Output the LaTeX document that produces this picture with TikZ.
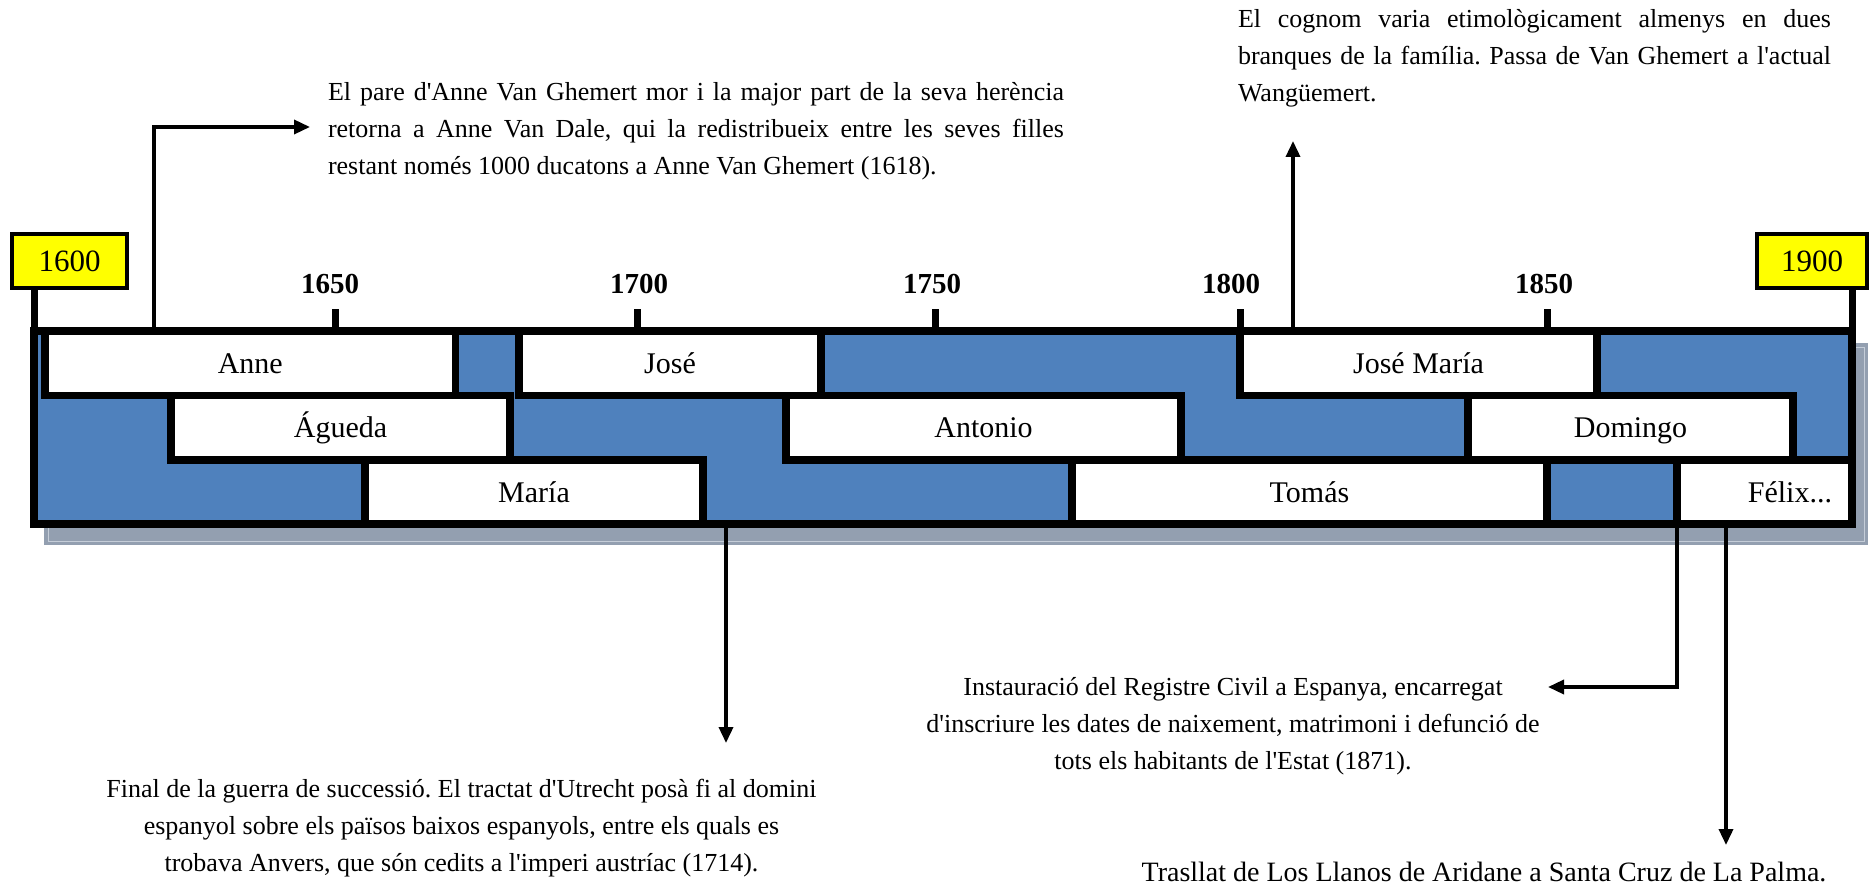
\documentclass[tikz,border=0pt]{standalone}
\usepackage{fontspec}
\setmainfont{Liberation Serif}[Ligatures=TeXOff]
\usetikzlibrary{arrows.meta}
\definecolor{barblue}{HTML}{4F81BD}
\definecolor{shadowgray}{HTML}{939FB0}
\definecolor{shadowline}{HTML}{C5CDD8}
\definecolor{yearyellow}{HTML}{FFFF00}
\frenchspacing
\begin{document}
\frenchspacing
\begin{tikzpicture}[x=1pt,y=-1pt,
  pbox/.style={draw=black, fill=white, line width=7.5pt, inner sep=0pt, outer sep=0pt,
    text height=20pt, text depth=0pt, font=\fontsize{30}{32}\selectfont},
  yearbox/.style={draw=black, fill=yearyellow, line width=4pt, inner sep=0pt, outer sep=0pt,
    minimum height=54pt, text height=21pt, text depth=0pt, font=\fontsize{31}{33}\selectfont},
  ticklbl/.style={inner sep=0pt, font=\fontsize{29}{31}\selectfont\bfseries},
  tickmark/.style={line width=7pt},
  stem/.style={line width=7pt},
  note/.style={inner sep=0pt, outer sep=0pt, font=\fontsize{26}{37}\selectfont\frenchspacing},
  arr/.style={line width=3.5pt, -{Triangle[length=16pt,width=14pt]}},
]
\useasboundingbox (0,0) rectangle (1871,885);

% shadow
\fill[shadowgray] (44,343) rectangle (1868,545);
\draw[shadowline, line width=1pt] (48,347) rectangle (1864,541);

% bar background
\node[fill=barblue, minimum width=1818pt, minimum height=193pt, inner sep=0pt, outer sep=0pt] (bar) at (943,427.5) {};

% row 1
\node[pbox, minimum width=410.5pt, minimum height=64.5pt] (anne) at (250.25,363.25) {Anne};
\node[pbox, minimum width=302pt, minimum height=64.5pt] (jose) at (670,363.25) {José};
\node[pbox, minimum width=357pt, minimum height=64.5pt] (jm) at (1418.5,363.25) {José María};
% row 2
\node[pbox, minimum width=339pt, minimum height=64.5pt] (agueda) at (340.5,427.75) {Águeda};
\node[pbox, minimum width=395pt, minimum height=64.5pt] (antonio) at (983.5,427.75) {Antonio};
\node[pbox, minimum width=325pt, minimum height=64.5pt] (domingo) at (1630.5,427.75) {Domingo};
% row 3
\node[pbox, minimum width=338pt, minimum height=64pt] (maria) at (534,492) {María};
\node[pbox, minimum width=475pt, minimum height=64pt] (tomas) at (1309.5,492) {Tomás};
\node[pbox, minimum width=175pt, minimum height=64pt, text width=135pt, align=right] (felix) at (1764.5,492) {Félix...};

% outer outline
\draw[line width=7.5pt] (bar.north west) rectangle (bar.south east);

% year boxes and stems
\node[yearbox, minimum width=115pt] (y1600) at (69.5,261) {1600};
\node[yearbox, minimum width=110pt] (y1900) at (1812,261) {1900};
\draw[stem] (bar.north west) -- (bar.north west |- y1600.south);
\draw[stem] (bar.north east) -- (bar.north east |- y1900.south);

% ticks
\foreach \x/\lx/\yr in {335.5/330/1650, 637/639/1700, 935/932/1750, 1240/1231/1800, 1547/1544/1850} {
  \node[ticklbl] (t\yr) at (\lx,284) {\yr};
  \draw[tickmark] (\x,331) -- (\x,309);
}

% notes
\node[note, align=left, anchor=north west] (n1) at (328,82)
  {\makebox[736pt][s]{El pare d'Anne Van Ghemert mor i la major part de la seva herència}\\
   \makebox[736pt][s]{retorna a Anne Van Dale, qui la redistribueix entre les seves filles}\\
   restant només 1000 ducatons a Anne Van Ghemert (1618).};
\node[note, align=left, anchor=north west] (n2) at (1238,9)
  {\makebox[593pt][s]{El cognom varia etimològicament almenys en dues}\\
   \makebox[593pt][s]{branques de la família. Passa de Van Ghemert a l'actual}\\
   Wangüemert.};
\node[note, align=center, anchor=north] (n3) at (461.5,779)
  {Final de la guerra de successió. El tractat d'Utrecht posà fi al domini\\
   espanyol sobre els països baixos espanyols, entre els quals es\\
   trobava Anvers, que són cedits a l'imperi austríac (1714).};
\node[note, align=center, anchor=north] (n4) at (1233,677)
  {Instauració del Registre Civil a Espanya, encarregat\\
   d'inscriure les dates de naixement, matrimoni i defunció de\\
   tots els habitants de l'Estat (1871).};
\node[note, font=\fontsize{28}{37}\selectfont] (n5) at (1484,872)
  {Trasllat de Los Llanos de Aridane a Santa Cruz de La Palma.};

% arrow ends
\coordinate (a1end) at (310,127);
\coordinate (a2end) at (1293,141);
\coordinate (a3end) at (726,743);
\coordinate (a4end) at (1548,687);
\coordinate (a5end) at (1726,845);

% connectors
\draw[arr] ([xshift=109pt]anne.north west) |- (a1end);
\draw[arr] ([xshift=53pt]jm.north west) -- (a2end);
\draw[arr] ([xshift=23pt]maria.south east) -- (a3end);
\draw[arr] (felix.south west) |- (a4end);
\draw[arr] ([xshift=49pt]felix.south west) -- (a5end);
\end{tikzpicture}
\end{document}
